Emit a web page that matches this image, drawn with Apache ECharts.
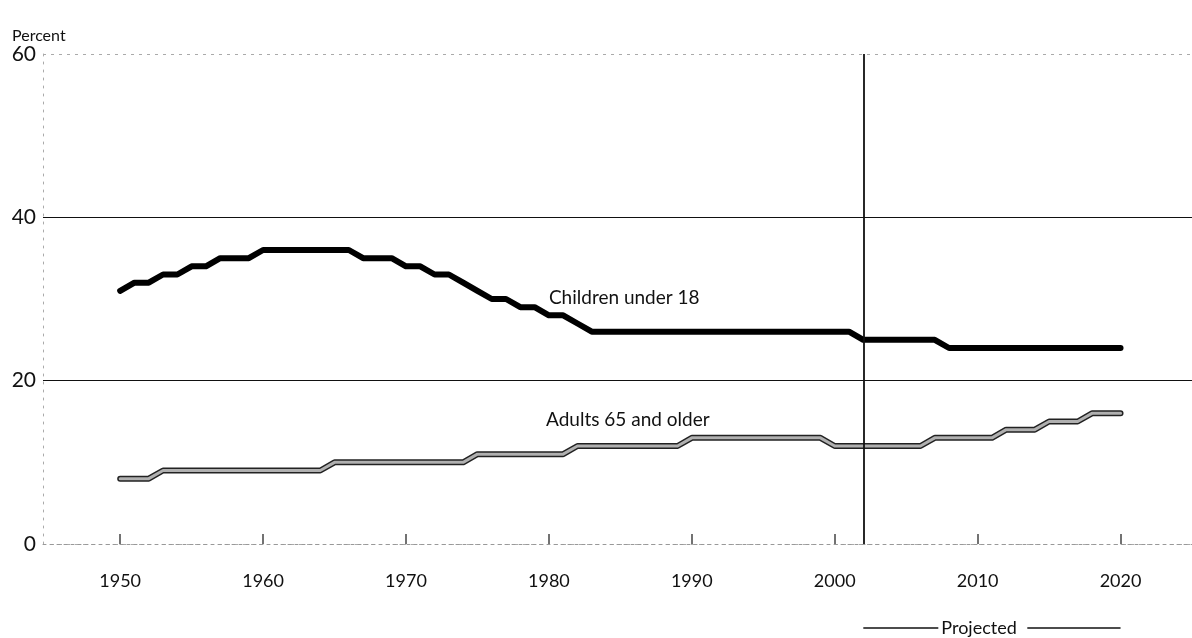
<!DOCTYPE html>
<html>
<head>
<meta charset="utf-8">
<title>Children and older adults as a percentage of the population</title>
<script src="https://cdn.jsdelivr.net/npm/echarts@6/dist/echarts.min.js"></script>
<style>
  html, body { margin: 0; padding: 0; background: #fff; }
  #chart { width: 1192px; height: 638px; }
</style>
</head>
<body>
<div id="chart"></div>
<script>
// years on the x axis
const years = [
  1950, 1951, 1952, 1953, 1954, 1955, 1956, 1957, 1958, 1959,
  1960, 1961, 1962, 1963, 1964, 1965, 1966, 1967, 1968, 1969,
  1970, 1971, 1972, 1973, 1974, 1975, 1976, 1977, 1978, 1979,
  1980, 1981, 1982, 1983, 1984, 1985, 1986, 1987, 1988, 1989,
  1990, 1991, 1992, 1993, 1994, 1995, 1996, 1997, 1998, 1999,
  2000, 2001, 2002, 2003, 2004, 2005, 2006, 2007, 2008, 2009,
  2010, 2011, 2012, 2013, 2014, 2015, 2016, 2017, 2018, 2019,
  2020
]

// percent of population
const childrenUnder18 = [
  31, 32, 32, 33, 33, 34, 34, 35, 35, 35,
  36, 36, 36, 36, 36, 36, 36, 35, 35, 35,
  34, 34, 33, 33, 32, 31, 30, 30, 29, 29,
  28, 28, 27, 26, 26, 26, 26, 26, 26, 26,
  26, 26, 26, 26, 26, 26, 26, 26, 26, 26,
  26, 26, 25, 25, 25, 25, 25, 25, 24, 24,
  24, 24, 24, 24, 24, 24, 24, 24, 24, 24,
  24
]
const adults65 = [
  8, 8, 8, 9, 9, 9, 9, 9, 9, 9,
  9, 9, 9, 9, 9, 10, 10, 10, 10, 10,
  10, 10, 10, 10, 10, 11, 11, 11, 11, 11,
  11, 11, 12, 12, 12, 12, 12, 12, 12, 12,
  13, 13, 13, 13, 13, 13, 13, 13, 13, 13,
  12, 12, 12, 12, 12, 12, 12, 13, 13, 13,
  13, 13, 14, 14, 14, 15, 15, 15, 16, 16,
  16
]

const yearTicks = [1950, 1960, 1970, 1980, 1990, 2000, 2010, 2020]
const solidGridValues = [20, 40]
const projectionStart = 2002
const projectionEnd = 2020

const font = 'Lato, "Open Sans", sans-serif'
const pairs = arr => years.map((y, i) => [y, arr[i]])

const chart = echarts.init(document.getElementById('chart'))

const percentTitle = {
  type: 'text',
  left: 12,
  top: 28,
  style: { text: 'Percent', fontFamily: font, fontSize: 16, fill: '#111' }
}

const options = {
  backgroundColor: '#fff',
  animation: false,
  grid: { left: 43, right: 0, top: 54, bottom: 94 },
  graphic: [percentTitle],
  xAxis: {
    type: 'value',
    min: 1944.6,
    max: 2025,
    axisLine: { show: true, lineStyle: { color: '#999', type: [3, 4], width: 1 } },
    axisTick: {
      show: true,
      inside: true,
      length: 10,
      customValues: yearTicks,
      lineStyle: { color: '#444', width: 1.5 }
    },
    axisLabel: {
      customValues: yearTicks,
      formatter: v => String(v),
      color: '#111',
      fontFamily: font,
      fontSize: 18,
      margin: 28
    },
    splitLine: { show: false }
  },
  yAxis: {
    type: 'value',
    min: 0,
    max: 60,
    interval: 20,
    axisLine: { show: true, lineStyle: { color: '#aaa', type: [2, 6], width: 1 } },
    axisTick: { show: false },
    axisLabel: { color: '#111', fontFamily: font, fontSize: 21, margin: 7 },
    splitLine: { show: true, lineStyle: { color: '#aaa', type: [3, 5], width: 1 } }
  },
  series: [
    {
      name: 'Adults 65 and older outline',
      type: 'line',
      data: pairs(adults65),
      symbol: 'none',
      silent: true,
      lineStyle: { color: '#222', width: 6, cap: 'round', join: 'round' },
      markLine: {
        symbol: 'none',
        silent: true,
        label: { show: false },
        lineStyle: { color: '#111', width: 1.2, type: 'solid' },
        data: [{ xAxis: projectionStart, lineStyle: { width: 1.8 } }]
          .concat(solidGridValues.map(v => ({ yAxis: v })))
      }
    },
    {
      name: 'Adults 65 and older',
      type: 'line',
      data: pairs(adults65),
      symbol: 'none',
      silent: true,
      lineStyle: { color: '#b0b0b0', width: 3, cap: 'round', join: 'round' },
      markPoint: {
        symbol: 'circle',
        symbolSize: 0,
        label: {
          show: true,
          position: 'right',
          distance: 0,
          color: '#111',
          fontFamily: font,
          fontSize: 19,
          formatter: 'Adults 65 and older'
        },
        data: [{ coord: [1979.8, 15.2] }]
      }
    },
    {
      name: 'Children under 18',
      type: 'line',
      data: pairs(childrenUnder18),
      symbol: 'none',
      silent: true,
      lineStyle: { color: '#000', width: 6, cap: 'round', join: 'round' },
      markPoint: {
        symbol: 'circle',
        symbolSize: 0,
        label: {
          show: true,
          position: 'right',
          distance: 0,
          color: '#111',
          fontFamily: font,
          fontSize: 19,
          formatter: 'Children under 18'
        },
        data: [{ coord: [1980, 30.1] }]
      }
    }
  ]
}

chart.setOption(options)

// "Projected" bracket under the axis, spanning the projection years
const x0 = chart.convertToPixel({ xAxisIndex: 0 }, projectionStart)
const x1 = chart.convertToPixel({ xAxisIndex: 0 }, projectionEnd)
const by = 628
const textLeft = x0 + 78
const textRight = textLeft + 82
chart.setOption({
  graphic: [
    percentTitle,
    { type: 'line', shape: { x1: x0, y1: by, x2: textLeft - 3, y2: by }, style: { stroke: '#111', lineWidth: 1.5 } },
    {
      type: 'text',
      x: textLeft,
      y: by,
      style: { text: 'Projected', fontFamily: font, fontSize: 18, fill: '#111', verticalAlign: 'middle' }
    },
    { type: 'line', shape: { x1: textRight + 4, y1: by, x2: x1, y2: by }, style: { stroke: '#111', lineWidth: 1.5 } }
  ]
})

window.addEventListener('resize', () => {
  chart.resize()
})
</script>
</body>
</html>
